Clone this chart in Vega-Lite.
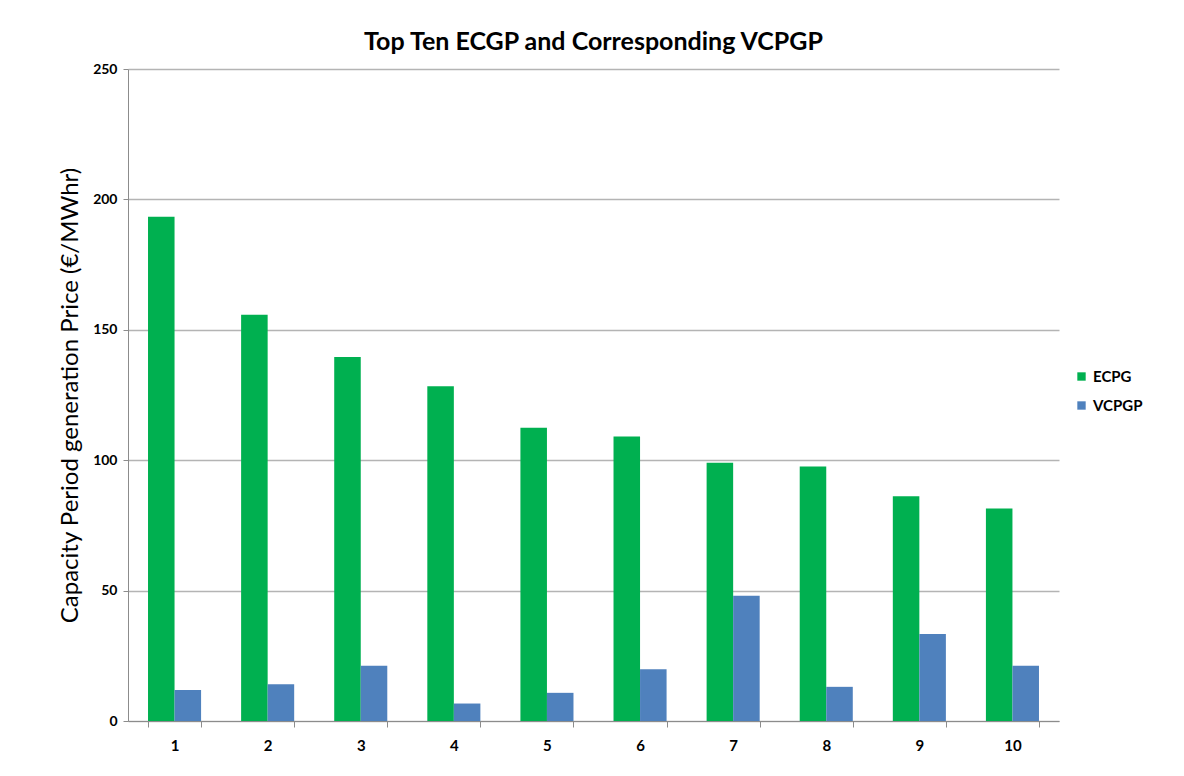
{
  "$schema": "https://vega.github.io/schema/vega-lite/v6.json",
  "autosize": {"type": "none"},
  "width": 931,
  "height": 652,
  "padding": {"left": 128, "top": 69, "right": 125, "bottom": 55},
  "background": "white",
  "title": {
    "text": "Top Ten ECGP and Corresponding VCPGP",
    "font": "Lato",
    "fontSize": 25,
    "fontWeight": "bold",
    "color": "#000000",
    "anchor": "middle",
    "offset": 7
  },
  "data": {
    "values": [
      {"rank": 1, "series": "ECPG", "price": 193.3},
      {"rank": 1, "series": "VCPGP", "price": 11.9},
      {"rank": 2, "series": "ECPG", "price": 155.8},
      {"rank": 2, "series": "VCPGP", "price": 14.1},
      {"rank": 3, "series": "ECPG", "price": 139.6},
      {"rank": 3, "series": "VCPGP", "price": 21.2},
      {"rank": 4, "series": "ECPG", "price": 128.4},
      {"rank": 4, "series": "VCPGP", "price": 6.7},
      {"rank": 5, "series": "ECPG", "price": 112.4},
      {"rank": 5, "series": "VCPGP", "price": 10.8},
      {"rank": 6, "series": "ECPG", "price": 109.1},
      {"rank": 6, "series": "VCPGP", "price": 19.8},
      {"rank": 7, "series": "ECPG", "price": 99.0},
      {"rank": 7, "series": "VCPGP", "price": 48.0},
      {"rank": 8, "series": "ECPG", "price": 97.6},
      {"rank": 8, "series": "VCPGP", "price": 13.1},
      {"rank": 9, "series": "ECPG", "price": 86.2},
      {"rank": 9, "series": "VCPGP", "price": 33.4},
      {"rank": 10, "series": "ECPG", "price": 81.5},
      {"rank": 10, "series": "VCPGP", "price": 21.2}
    ]
  },
  "mark": {"type": "bar"},
  "encoding": {
    "x": {
      "field": "rank",
      "type": "ordinal",
      "scale": {"paddingInner": 0.43, "paddingOuter": 0.215},
      "axis": {
        "title": null,
        "labelAngle": 0,
        "labelFont": "Lato",
        "labelFontSize": 15,
        "labelFontWeight": "bold",
        "labelColor": "#000000",
        "labelPadding": 11,
        "tickBand": "extent",
        "tickSize": 6,
        "tickColor": "#8c8c8c",
        "domainColor": "#8c8c8c",
        "grid": false
      }
    },
    "xOffset": {"field": "series", "type": "nominal", "scale": {"paddingInner": 0, "paddingOuter": 0}},
    "y": {
      "field": "price",
      "type": "quantitative",
      "scale": {"domain": [0, 250]},
      "axis": {
        "title": "Capacity Period generation Price (€/MWhr)",
        "titleFont": "Lato",
        "titleFontSize": 24,
        "titleFontWeight": "normal",
        "titleColor": "#000000",
        "titlePadding": 10,
        "values": [0, 50, 100, 150, 200, 250],
        "labelFont": "Lato",
        "labelFontSize": 14,
        "labelFontWeight": "bold",
        "labelColor": "#000000",
        "labelPadding": 6,
        "tickSize": 5,
        "tickColor": "#8c8c8c",
        "domainColor": "#8c8c8c",
        "grid": true,
        "gridColor": "#b4b4b4",
        "gridWidth": 1.5
      }
    },
    "color": {
      "field": "series",
      "type": "nominal",
      "scale": {"domain": ["ECPG", "VCPGP"], "range": ["#00b050", "#4f81bd"]},
      "legend": {
        "title": null,
        "orient": "none",
        "legendX": 946,
        "legendY": 300,
        "symbolType": "square",
        "symbolSize": 70,
        "symbolStrokeWidth": 0,
        "labelFont": "Lato",
        "labelFontSize": 15,
        "labelFontWeight": "bold",
        "labelColor": "#000000",
        "rowPadding": 13
      }
    }
  },
  "config": {
    "view": {"stroke": null}
  }
}
